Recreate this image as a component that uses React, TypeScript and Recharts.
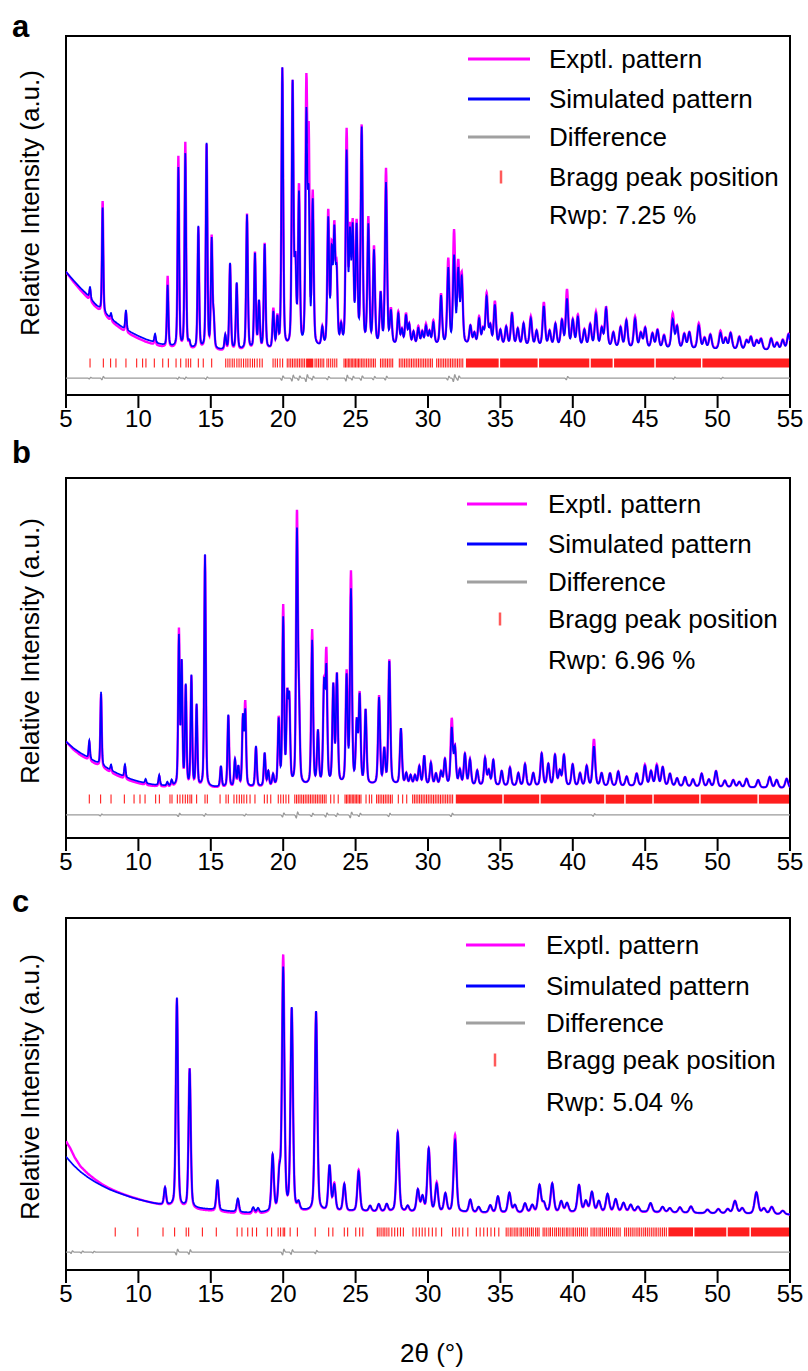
import { ComposedChart, Line, Scatter, XAxis, YAxis, ReferenceArea } from "recharts";

const FONT = '"Liberation Sans", Arial, Helvetica, sans-serif';
const X_TICKS = [5, 10, 15, 20, 25, 30, 35, 40, 45, 50, 55];
const LEGEND_LABELS = ["Exptl. pattern", "Simulated pattern", "Difference", "Bragg peak position"];

// ---------- panel a ----------
const bgSimA = [
  [5, 34.3], [5.5, 32], [6, 29.8], [6.5, 27.8], [7, 25.3], [7.5, 23.3], [8, 21.6], [8.5, 20],
  [9, 18.5], [9.5, 17.4], [10, 16.4], [10.5, 15.5], [11, 14.8], [11.5, 14.1], [12, 13.5], [13, 13],
  [14, 12.7], [16, 12.4], [18, 12.4], [20, 12.6], [23, 13], [26, 13.4], [28, 13.7], [30, 13.8],
  [33, 13.9], [36, 13.7], [40, 13.4], [45, 12.9], [50, 12.6], [55, 12.3],
];
const bgExpA = [
  [5, 34.3], [5.5, 31.6], [6, 29.2], [6.5, 27], [7, 24.6], [7.5, 22.6], [8, 20.9], [8.5, 19.3],
  [9, 17.8], [9.5, 16.7], [10, 15.7], [10.5, 14.8], [11, 14.1], [11.5, 13.5], [12, 13], [13, 12.6],
  [14, 12.4], [16, 12.1], [18, 12.2], [20, 12.5], [23, 13], [26, 13.4], [28, 13.7], [30, 13.8],
  [33, 13.9], [36, 13.7], [40, 13.5], [45, 13], [50, 12.7], [55, 12.4],
];
// [2theta, simulated height, experimental height]
const peaksA = [
  [6.66, 3.2, 3.2], [7.53, 29, 31.5], [8.11, 1.5, 1.5], [9.14, 5.5, 5.5], [11.15, 2.4, 2.4],
  [12.02, 17, 20], [12.76, 50, 53.5], [13.24, 54, 57.5], [13.52, 1.5, 1.5], [14.14, 34, 34],
  [14.71, 57, 57], [15.06, 30, 31], [15.2, 8, 8], [16.0, 4, 4], [16.33, 24, 24],
  [16.79, 18.5, 18.5], [17.5, 37.5, 38], [18.05, 26.5, 27], [18.33, 13, 13], [18.72, 29, 29.5],
  [19.32, 10, 11], [19.6, 8, 8.5], [19.94, 78, 78], [20.65, 73, 73], [20.84, 22, 22],
  [21.09, 42, 44], [21.6, 63, 71], [21.76, 39, 56], [22.04, 40, 42], [22.7, 5, 5],
  [23.11, 35, 37], [23.35, 25, 26], [23.53, 30, 31], [23.69, 19, 20], [24.0, 5, 5],
  [24.38, 53, 59], [24.61, 29, 30], [24.8, 31, 32], [25.07, 32, 33], [25.42, 60, 60.5],
  [25.88, 33, 35], [26.27, 26, 27], [26.73, 14, 14], [27.1, 45, 49], [27.44, 9, 9.5],
  [27.95, 8.5, 9], [28.2, 4, 4], [28.48, 8, 8.5], [28.7, 5.5, 5.5], [29.0, 3.5, 3.5],
  [29.33, 4.5, 5], [29.6, 3.5, 3.5], [29.86, 5, 5.5], [30.1, 3.5, 3.5], [30.37, 6, 6.5],
  [30.9, 13.5, 14], [31.4, 21, 23.5], [31.8, 24, 31], [32.09, 20, 22], [32.33, 18, 19],
  [32.93, 5, 5], [33.2, 3, 3], [33.53, 7, 7.5], [33.8, 4, 4], [34.05, 13, 14],
  [34.3, 5, 5], [34.62, 11, 12], [35.0, 4, 4], [35.4, 5, 5], [35.8, 8.5, 9],
  [36.2, 4.5, 4.5], [36.6, 6, 6], [37.1, 7.5, 8], [37.5, 4, 4], [38.0, 11, 12],
  [38.4, 4, 4], [38.8, 6, 6], [39.25, 7, 7], [39.6, 13, 15.5], [40.0, 7, 7],
  [40.35, 8, 8.5], [40.8, 4.5, 4.5], [41.2, 6, 6], [41.6, 9, 9.5], [42.0, 5, 5],
  [42.3, 10.5, 11], [42.8, 4, 4], [43.3, 5.5, 5.5], [43.7, 7.5, 7.5], [44.3, 8, 8.5],
  [44.7, 4, 4], [45.0, 5.5, 5.5], [45.5, 4, 4], [45.85, 5, 5], [46.3, 3.5, 3.5],
  [46.9, 8, 9.5], [47.2, 6, 6], [47.7, 4, 4], [48.05, 4.5, 4.5], [48.7, 6.5, 7],
  [49.1, 3, 3], [49.5, 4, 4], [50.2, 4.5, 5], [50.55, 3, 3], [50.9, 4.5, 4.5],
  [51.5, 3.5, 3.5], [52.0, 2.5, 2.5], [52.3, 3.5, 3.5], [52.7, 2.5, 2.5], [53.0, 3, 3],
  [53.7, 3.2, 3.2], [54.1, 2, 2], [54.5, 2.8, 2.8], [54.9, 4.5, 4.5],
];
// [2theta, wiggle amplitude] of the difference curve
const diffA = [
  [6.66, 0.5], [7.53, 1], [12.76, 0.6], [13.24, 0.6], [14.71, 0.7], [19.94, 1.4], [20.65, 1.8],
  [21.1, 1.4], [21.62, 2.2], [22.04, 1.2], [23.1, 1], [24.38, 1.8], [24.8, 1.2], [25.42, 1.4],
  [26.27, 1], [27.1, 1.2], [31.4, 1.2], [31.8, 2.2], [32.1, 1.4], [39.6, 1], [47, 0.6], [50.3, 0.5],
];
const braggA = [
  6.66, 7.58, 8.08, 8.45, 9.14, 9.88, 10.29, 10.52, 11.1, 11.68, 12.07, 12.6, 12.92, 13.29, 13.45,
  13.61, 14.14, 14.48, 15.06, 16.03, 16.18, 16.32, 16.48, 16.62, 16.8, 16.95, 17.1, 17.26, 17.42,
  17.56, 17.72, 17.88, 18.02, 18.2, 18.38, 18.55, 19.3, 19.45, 19.6, 19.78, 19.96, 20.28, 20.4,
  20.52, 20.64, 20.76, 20.88, 21.0, 21.12, 21.24, 21.36, 21.48, 22.2, 22.32, 22.44, 22.56, 22.68,
  22.8, 23.02, 23.14, 23.28, 23.42, 23.56, 23.7, 24.2, 24.3, 24.4, 24.5, 24.6, 24.7, 24.8, 24.9,
  25.0, 25.1, 25.2, 25.3, 25.42, 25.52, 25.64, 25.76, 25.88, 26.0, 26.12, 26.24, 26.36, 26.72,
  26.84, 26.96, 27.08, 27.2, 27.32, 27.44, 27.56, 28.02, 28.14, 28.26, 28.38, 28.5, 28.62, 28.74,
  28.86, 28.98, 29.1, 29.22, 29.34, 29.46, 29.58, 29.7, 29.82, 29.94, 30.06, 30.18, 30.3, 30.6,
  30.72, 30.84, 30.96, 31.08, 31.2, 31.32, 31.44, 31.56, 31.68, 31.8, 31.92, 32.04, 32.16, 32.28,
  32.4,
];
const braggBandsA = [
  [21.58, 22.08], [32.62, 34.88], [34.98, 37.57], [37.67, 41.14], [41.24, 42.75], [42.85, 45.63],
  [45.73, 48.85], [48.95, 55],
];

// ---------- panel b ----------
const bgSimB = [
  [5, 26.8], [5.5, 25], [6, 23.6], [6.5, 22.4], [7, 21.2], [7.5, 20.1], [8, 19], [8.5, 18],
  [9, 17.1], [9.5, 16.3], [10, 15.7], [10.5, 15.2], [11, 14.8], [12, 14.4], [14, 14.1], [16, 14],
  [18, 14.1], [20, 14.3], [24, 14.6], [28, 14.7], [32, 14.6], [36, 14.4], [40, 14.3], [45, 14.4],
  [50, 14.1], [55, 13.8],
];
const bgExpB = [
  [5, 26.8], [5.5, 24.6], [6, 23], [6.5, 21.8], [7, 20.6], [7.5, 19.5], [8, 18.4], [8.5, 17.4],
  [9, 16.5], [9.5, 15.8], [10, 15.2], [10.5, 14.7], [11, 14.4], [12, 14.1], [14, 13.9], [16, 13.8],
  [18, 13.9], [20, 14.2], [24, 14.6], [28, 14.7], [32, 14.6], [36, 14.4], [40, 14.3], [45, 14.4],
  [50, 14.1], [55, 13.8],
];
const peaksB = [
  [6.61, 5, 5], [7.42, 20.3, 20.3], [8.11, 1.6, 1.6], [9.07, 3.5, 3.5], [10.5, 1.2, 1.2],
  [11.44, 2.8, 2.8], [12.0, 1, 1], [12.3, 1.5, 1.5], [12.8, 41, 43], [12.99, 33.5, 33.5],
  [13.27, 27.5, 27.5], [13.66, 30.5, 30.5], [14.02, 22.5, 22.5], [14.6, 64.5, 64.5], [15.7, 5.8, 5.8],
  [16.21, 20, 20], [16.67, 7.5, 7.5], [16.9, 5.5, 5.5], [17.22, 19, 19], [17.38, 20.5, 23],
  [18.12, 11.2, 11.2], [18.72, 9.2, 9.2], [18.97, 4, 4], [19.3, 3, 3], [19.69, 18, 18.5],
  [20.0, 46, 49.5], [20.28, 23, 23], [20.42, 22.5, 22.5], [20.95, 69, 74], [21.09, 19, 19],
  [22.0, 40, 43], [22.4, 14.5, 14.5], [22.82, 26.5, 26.5], [22.98, 31, 35.5], [23.46, 27, 27],
  [23.71, 30, 30], [24.38, 29.5, 30.5], [24.68, 53.5, 58.5], [25.08, 16.5, 16.5], [25.28, 24, 24.5],
  [25.69, 20.5, 20.5], [26.62, 24, 24.5], [26.98, 9.5, 9.5], [27.33, 34, 34.5], [28.13, 15.5, 15.5],
  [28.5, 3, 3], [28.8, 2.5, 2.5], [29.1, 2.5, 2.5], [29.4, 5, 5], [29.74, 8, 8],
  [30.2, 6, 6], [30.55, 3, 3], [30.9, 3.5, 3.5], [31.17, 7, 7], [31.64, 15.5, 18],
  [31.86, 10, 10], [32.2, 4, 4], [32.55, 8.5, 8.5], [32.9, 7, 7], [33.4, 4, 4],
  [33.94, 7.5, 7.5], [34.2, 4, 4], [34.51, 7, 7], [35.09, 4, 4], [35.66, 5, 5],
  [36.24, 3.5, 3.5], [36.7, 6, 6], [37.27, 3.5, 3.5], [37.85, 9, 9], [38.31, 6, 6],
  [38.77, 8.5, 8.5], [39.1, 4, 4], [39.39, 8.5, 8.5], [39.99, 6, 6], [40.5, 3.5, 3.5],
  [40.96, 5.5, 5.5], [41.46, 11, 13], [41.99, 3.5, 3.5], [42.57, 3.5, 3.5], [43.14, 4, 4],
  [43.72, 2.6, 2.6], [44.41, 3.4, 3.4], [44.98, 5.5, 5.8], [45.4, 4, 4], [45.8, 5.5, 5.8],
  [46.21, 5.2, 5.2], [46.71, 3.4, 3.4], [47.2, 2.2, 2.2], [47.75, 2.6, 2.6], [48.3, 2, 2],
  [48.9, 3.6, 3.6], [49.4, 2, 2], [49.89, 4.4, 4.4], [50.5, 1.8, 1.8], [51.08, 2, 2],
  [51.5, 1.5, 1.5], [52.0, 2.4, 2.4], [52.8, 2.1, 2.1], [53.6, 3, 3], [54.08, 2.2, 2.2],
  [54.77, 2.6, 2.6],
];
const diffB = [
  [7.42, 0.6], [12.8, 1], [14.6, 0.8], [17.38, 0.6], [20.0, 1.2], [20.95, 1.8], [22.0, 1],
  [22.98, 1.2], [23.71, 1], [24.68, 1.8], [25.28, 1], [27.33, 1], [31.64, 1], [41.46, 0.8],
];
const braggB = [
  6.61, 7.39, 8.11, 9.03, 9.7, 10.11, 10.46, 11.19, 11.45, 12.18, 12.32, 12.69, 12.87, 13.06,
  13.24, 13.4, 13.56, 13.68, 14.02, 14.6, 14.76, 15.64, 16.05, 16.21, 16.6, 16.79, 16.97, 17.13,
  17.29, 17.48, 17.71, 18.05, 18.7, 18.9, 19.14, 19.66, 19.83, 20.01, 20.19, 20.38, 20.8, 20.92,
  21.04, 21.16, 21.28, 21.4, 21.52, 21.64, 21.76, 21.88, 22.0, 22.12, 22.24, 22.36, 22.48, 22.6,
  22.72, 22.84, 22.96, 23.28, 23.51, 23.8, 24.27, 24.37, 24.47, 24.57, 24.67, 24.77, 24.87, 24.97,
  25.07, 25.17, 25.27, 25.37, 25.72, 25.95, 26.11, 26.45, 26.57, 26.69, 26.81, 26.93, 27.05,
  27.17, 27.29, 27.41, 27.53, 27.95, 28.25, 28.53, 28.94, 29.06, 29.18, 29.3, 29.42, 29.54, 29.66,
  29.78, 29.9, 30.02, 30.14, 30.26, 30.38, 30.5, 30.62, 30.74, 30.86, 30.98, 31.1, 31.22, 31.34,
  31.46, 31.58, 31.7,
];
const braggBandsB = [
  [31.92, 35.13], [35.23, 37.68], [37.78, 42.17], [42.27, 43.55], [43.65, 45.49], [45.59, 48.73],
  [48.83, 52.75], [52.85, 55],
];

// ---------- panel c ----------
const bgSimC = [
  [5, 33.7], [5.5, 31.4], [6, 29.5], [6.5, 28], [7, 26.7], [7.5, 25.6], [8, 24.6], [8.5, 23.8],
  [9, 23.1], [9.5, 22.4], [10, 21.8], [10.5, 21.3], [11, 20.8], [11.5, 20.4], [12, 20.1], [13, 19.6],
  [14, 19.3], [15, 19], [16, 18.6], [17, 18.2], [18, 18], [19, 18.2], [20, 18.4], [25, 18.5],
  [30, 18.3], [35, 18.1], [40, 18.2], [45, 18.3], [50, 17.9], [55, 17.6],
];
const bgExpC = [
  [5, 38], [5.3, 36], [5.6, 33.5], [6, 31], [6.5, 29], [7, 27.4], [7.5, 26], [8, 24.9],
  [8.5, 24], [9, 23.2], [9.5, 22.5], [10, 21.9], [10.5, 21.3], [11, 20.8], [11.5, 20.3], [12, 19.9],
  [13, 19.3], [14, 18.9], [15, 18.6], [16, 18.2], [17, 17.8], [18, 17.6], [19, 17.9], [20, 18.2],
  [25, 18.4], [30, 18.2], [35, 18], [40, 18.1], [45, 18.2], [50, 17.9], [55, 17.6],
];
const peaksC = [
  [11.84, 4.8, 4.8], [12.66, 58, 58], [13.54, 38.5, 39], [15.46, 8.5, 8.5], [16.87, 3.8, 3.8],
  [17.93, 1.5, 1.5], [18.26, 1.2, 1.2], [19.27, 15.5, 15.5], [19.74, 9.5, 10.5], [20.0, 67, 70.5],
  [20.59, 56, 56], [21.06, 2, 2], [22.27, 55.5, 55.5], [23.2, 12.5, 12.5], [23.53, 7, 7.5],
  [24.22, 7.5, 7.5], [25.21, 11, 11.5], [26.0, 1.5, 1.5], [26.6, 2, 2], [27.15, 2, 2],
  [27.91, 22, 22], [28.6, 1.5, 1.5], [29.3, 6, 6], [29.62, 4, 4], [30.05, 17.5, 17.5],
  [30.6, 7.5, 8], [31.2, 5, 5], [31.87, 20, 21.5], [32.92, 3.5, 3.5], [33.5, 1.5, 1.5],
  [34.3, 2, 2], [34.83, 4.5, 4.5], [35.62, 5.5, 5.5], [36.0, 2, 2], [36.7, 2.5, 2.5],
  [37.2, 2, 2], [37.7, 7.5, 7.5], [38.0, 2.5, 2.5], [38.58, 8, 8], [39.2, 3, 3],
  [39.6, 2.5, 2.5], [40.43, 7.5, 7.5], [40.9, 3, 3], [41.32, 5.5, 5.5], [41.8, 3, 3],
  [42.4, 5, 5], [42.96, 3.5, 3.5], [43.5, 2.5, 2.5], [44.0, 2, 2], [44.5, 1.5, 1.5],
  [45.37, 2.5, 2.5], [46.2, 1.5, 1.5], [46.7, 1.2, 1.2], [47.4, 1.5, 1.5], [48.16, 1.8, 1.8],
  [49.3, 1, 1], [50.05, 1.2, 1.2], [50.7, 1.2, 1.2], [51.2, 3.5, 3.5], [51.7, 1.5, 1.5],
  [52.68, 6, 6], [53.2, 1.5, 1.5], [53.74, 2, 2], [54.5, 1, 1],
];
const diffC = [
  [5.4, 0.8], [6.1, 0.7], [6.9, 0.5], [12.66, 1.8], [13.54, 1.4], [20.0, 1.8], [20.59, 1.4], [22.27, 1],
];
const braggC = [
  8.4, 9.96, 11.7, 12.5, 13.3, 13.47, 14.42, 15.38, 16.82, 17.15, 17.55, 17.87, 18.16, 18.9, 19.2,
  19.65, 19.82, 20.0, 20.1, 20.48, 20.98, 22.21, 23.14, 23.43, 24.22, 24.45, 25.01, 25.28, 25.5,
  26.5, 26.62, 26.76, 26.9, 27.02, 27.16, 27.3, 27.5, 27.7, 27.9, 28.1, 28.3, 28.96, 29.18, 29.4,
  29.6, 29.8, 30.05, 30.3, 30.55, 30.94, 31.7, 31.92, 32.15, 32.4, 32.75, 33.34, 33.6, 33.85, 34.1,
  34.35, 34.6, 34.89, 35.4, 35.53, 35.68, 35.8, 35.95, 36.08, 36.2, 36.36, 36.47, 36.61, 36.76,
  36.88, 37.02, 37.15, 37.27, 37.43, 37.55, 37.67, 37.95, 38.07, 38.2, 38.35, 38.46, 38.6, 38.75,
  38.87, 39.01, 39.13, 39.28, 39.4, 39.55, 39.66, 39.8, 39.95, 40.06, 40.2, 40.33, 40.47, 40.6,
  40.73, 40.86, 41.0, 41.26, 41.4, 41.52, 41.66, 41.81, 41.93, 42.06, 42.2, 42.33, 42.47, 42.6,
  42.74, 42.86, 43.0, 43.13, 43.27, 43.58, 43.7, 43.84, 43.97, 44.1, 44.23, 44.37, 44.5, 44.62,
  44.76, 44.9, 45.02, 45.15, 45.28, 45.42, 45.55, 45.68, 45.8, 45.94, 46.07, 46.2, 46.33, 46.46,
];
const braggBandsC = [
  [46.6, 48.3], [48.4, 50.6], [50.7, 52.2], [52.3, 55],
];

function bgAt(knots, x) {
  for (let i = 1; i < knots.length; i++) {
    if (x <= knots[i][0]) {
      const [x0, y0] = knots[i - 1];
      const [x1, y1] = knots[i];
      return y0 + ((y1 - y0) * (x - x0)) / (x1 - x0);
    }
  }
  return knots[knots.length - 1][1];
}

// pseudo-Voigt peak profile, d = offset / FWHM
function peakShape(d) {
  return 0.35 / (1 + 4 * d * d) + 0.65 * Math.exp(-2.7726 * d * d);
}

function buildRows(bgSim, bgExp, peaks, width, diffMarks, diffLevel) {
  const xs = [];
  for (let i = 0; i <= 2500; i++) xs.push(5 + i * 0.02);
  peaks.forEach((p) => xs.push(p[0]));
  xs.sort((a, b) => a - b);
  return xs.map((x) => {
    let sim = bgAt(bgSim, x);
    let exp = bgAt(bgExp, x);
    for (const [pos, hs, he] of peaks) {
      const fwhm = width[0] + width[1] * (pos - 5);
      const d = (x - pos) / fwhm;
      if (Math.abs(d) > 40) continue;
      const s = peakShape(d);
      sim += hs * s;
      exp += he * s;
    }
    let diff = diffLevel;
    for (const [pos, amp] of diffMarks) {
      const d = (x - pos) / 0.07;
      if (Math.abs(d) < 5) diff += amp * d * Math.exp(-d * d);
    }
    return { x, exp, sim, diff };
  });
}

const PANELS = [
  {
    key: "a", top: 36, bottom: 395, domain: [0, 100], tickY: 8.9, rwp: "7.25",
    rows: buildRows(bgSimA, bgExpA, peaksA, [0.1, 0.0028], diffA, 4.7),
    bragg: braggA, bands: braggBandsA,
    letterY: 37, labelY: 203, legendY: [59, 99, 137, 177, 215], lineX: [468, 530], textX: 549, markX: 501,
  },
  {
    key: "b", top: 478, bottom: 838, domain: [0, 100], tickY: 10.8, rwp: "6.96",
    rows: buildRows(bgSimB, bgExpB, peaksB, [0.1, 0.0028], diffB, 6.4),
    bragg: braggB, bands: braggBandsB,
    letterY: 463, labelY: 651, legendY: [504, 544, 582, 619, 660], lineX: [467, 527], textX: 548, markX: 500,
  },
  {
    key: "c", top: 918, bottom: 1270, domain: [2.22, 100], tickY: 12.8, rwp: "5.04",
    rows: buildRows(bgSimC, bgExpC, peaksC, [0.15, 0.003], diffC, 7.2),
    bragg: braggC, bands: braggBandsC,
    letterY: 912, labelY: 1087, legendY: [945, 986, 1023, 1060, 1102], lineX: [466, 525], textX: 546, markX: 495,
  },
];

const BraggTick = (props) => {
  const { cx, cy } = props;
  if (cx == null || cy == null) return null;
  return <line x1={cx} x2={cx} y1={cy - 4.5} y2={cy + 4.5} stroke="#ff1e1e" strokeWidth={1.1} />;
};

function Panel({ p }) {
  const height = 10 + (p.bottom - p.top) + 40;
  const tickRows = p.bragg.map((x) => ({ x, y: p.tickY }));
  return (
    <div style={{ position: "absolute", left: 0, top: p.top - 10 }}>
      <ComposedChart
        width={808}
        height={height}
        data={p.rows}
        margin={{ top: 10, right: 18, bottom: 0, left: 66 }}
        style={{ fontFamily: FONT }}
      >
        <XAxis
          type="number"
          dataKey="x"
          domain={[5, 55]}
          ticks={X_TICKS}
          interval={0}
          allowDataOverflow
          height={40}
          tickSize={13}
          tickMargin={2}
          axisLine={{ stroke: "#000", strokeWidth: 2 }}
          tickLine={{ stroke: "#000", strokeWidth: 2 }}
          tick={{ fontSize: 24, fill: "#000", fontFamily: FONT }}
        />
        <YAxis type="number" hide domain={p.domain} allowDataOverflow />
        {p.bands.map(([x1, x2]) => (
          <ReferenceArea
            key={x1}
            x1={x1}
            x2={x2}
            y1={p.tickY - 1.25}
            y2={p.tickY + 1.25}
            fill="#ff1e1e"
            fillOpacity={1}
            stroke="none"
          />
        ))}
        <Scatter data={tickRows} dataKey="y" shape={BraggTick} isAnimationActive={false} />
        <Line type="linear" dataKey="exp" stroke="#ff00ff" strokeWidth={2.4} dot={false} isAnimationActive={false} />
        <Line type="linear" dataKey="sim" stroke="#0000ff" strokeWidth={1.7} dot={false} isAnimationActive={false} />
        <Line type="linear" dataKey="diff" stroke="#9a9a9a" strokeWidth={1.3} dot={false} isAnimationActive={false} />
        <ReferenceArea x1={5} x2={55} y1={p.domain[0]} y2={p.domain[1]} fill="none" stroke="#000" strokeWidth={2} />
      </ComposedChart>
    </div>
  );
}

function Annotations() {
  const legendColors = ["#ff00ff", "#0000ff", "#a0a0a0"];
  return (
    <svg
      width={808}
      height={1371}
      style={{ position: "absolute", left: 0, top: 0, pointerEvents: "none", fontFamily: FONT }}
    >
      {PANELS.map((p) => (
        <g key={p.key}>
          <text x={12} y={p.letterY} fontSize={31} fontWeight="bold" fill="#000">{p.key}</text>
          <text transform={`translate(39 ${p.labelY}) rotate(-90)`} textAnchor="middle" fontSize={26} fill="#000">
            Relative Intensity (a.u.)
          </text>
          {legendColors.map((c, i) => (
            <line key={c} x1={p.lineX[0]} x2={p.lineX[1]} y1={p.legendY[i]} y2={p.legendY[i]} stroke={c} strokeWidth={3} />
          ))}
          <line x1={p.markX} x2={p.markX} y1={p.legendY[3] - 6.5} y2={p.legendY[3] + 6.5} stroke="#ff5a5a" strokeWidth={2.5} />
          {LEGEND_LABELS.map((t, i) => (
            <text key={t} x={p.textX} y={p.legendY[i] + 9.3} fontSize={26} fill="#000">{t}</text>
          ))}
          <text x={p.textX} y={p.legendY[4] + 9.3} fontSize={26} fill="#000">{`Rwp: ${p.rwp} %`}</text>
        </g>
      ))}
      <text x={432} y={1362} textAnchor="middle" fontSize={26} fill="#000">2θ (°)</text>
    </svg>
  );
}

export default function App() {
  return (
    <div style={{ position: "absolute", left: 0, top: 0, width: 808, height: 1371, background: "#fff" }}>
      {PANELS.map((p) => (
        <Panel key={p.key} p={p} />
      ))}
      <Annotations />
    </div>
  );
}
